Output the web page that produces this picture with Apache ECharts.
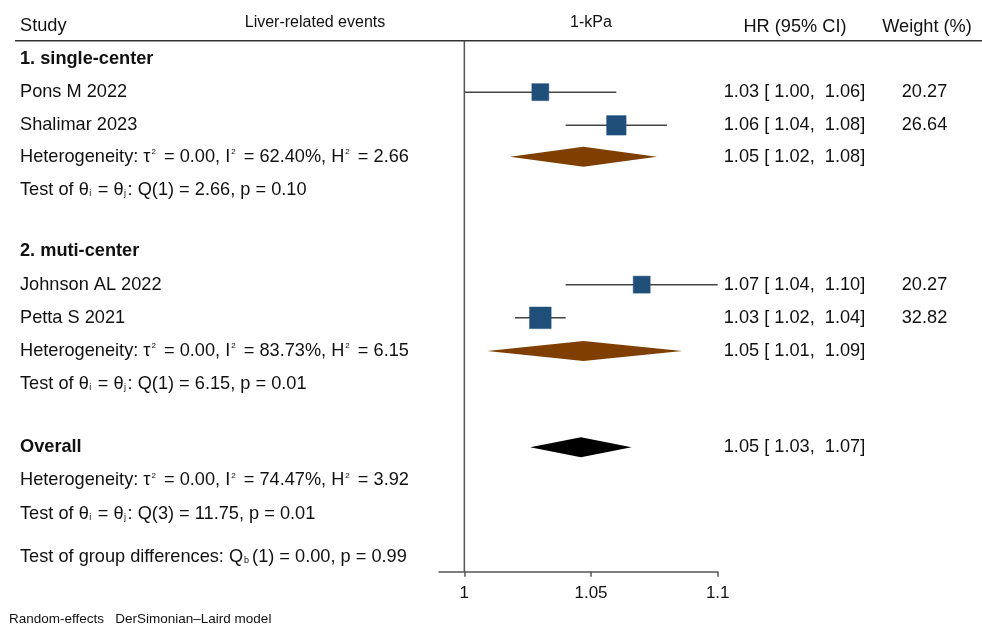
<!DOCTYPE html>
<html>
<head>
<meta charset="utf-8">
<script src="https://cdn.jsdelivr.net/npm/echarts@6/dist/echarts.min.js"></script>
<style>
html, body { margin: 0; padding: 0; background: #fff; }
#main { width: 982px; height: 630px; }
</style>
</head>
<body>
<div id="main"></div>
<script>
// left column text rows and their row position
const rowText = [
    '1. single-center',
    'Pons M 2022',
    'Shalimar 2023',
    'Heterogeneity: τ{sup|2} = 0.00, I{sup|2} = 62.40%, H{sup|2} = 2.66',
    'Test of θ{sub|i} = θ{sub|j}: Q(1) = 2.66, p = 0.10',
    '2. muti-center',
    'Johnson AL 2022',
    'Petta S 2021',
    'Heterogeneity: τ{sup|2} = 0.00, I{sup|2} = 83.73%, H{sup|2} = 6.15',
    'Test of θ{sub|i} = θ{sub|j}: Q(1) = 6.15, p = 0.01',
    'Overall',
    'Heterogeneity: τ{sup|2} = 0.00, I{sup|2} = 74.47%, H{sup|2} = 3.92',
    'Test of θ{sub|i} = θ{sub|j}: Q(3) = 11.75, p = 0.01',
    'Test of group differences: Q{subb|b}(1) = 0.00, p = 0.99'
]
const rowPos = [0.55, 1.55, 2.55, 3.5, 4.5, 6.35, 7.35, 8.35, 9.35, 10.35, 12.25, 13.25, 14.25, 15.55]
const boldRows = ['1. single-center', '2. muti-center', 'Overall']

// studies
const studyPos = [1.55, 2.55, 7.35, 8.35]
const studyHR = [1.03, 1.06, 1.07, 1.03]
const studyLo = [1.00, 1.04, 1.04, 1.02]
const studyHi = [1.06, 1.08, 1.10, 1.04]
const studyWeight = [20.27, 26.64, 20.27, 32.82]
const studyCI = ['1.03 [ 1.00,  1.06]', '1.06 [ 1.04,  1.08]', '1.07 [ 1.04,  1.10]', '1.03 [ 1.02,  1.04]']
const studyWeightText = ['20.27', '26.64', '20.27', '32.82']

// pooled estimates (two subgroups + overall)
const poolPos = [3.5, 9.35, 12.25]
const poolHR = [1.047, 1.047, 1.046]
const poolLo = [1.018, 1.009, 1.026]
const poolHi = [1.076, 1.086, 1.066]
const poolCI = ['1.05 [ 1.02,  1.08]', '1.05 [ 1.01,  1.09]', '1.05 [ 1.03,  1.07]']

// axis
const xMin = 0.99
const xMax = 1.1
const xTicks = [1, 1.05, 1.1]
const refValue = 1

const FONT = "'Liberation Sans', Arial, sans-serif"
const richText = {
    sup: { fontSize: 8, fontFamily: FONT, verticalAlign: 'top', padding: [0, 3, 0, 1] },
    sub: { fontSize: 9, fontFamily: FONT, verticalAlign: 'bottom', padding: [0, 1.5, 1, 0.5] },
    subb: { fontSize: 9, fontFamily: FONT, verticalAlign: 'bottom', padding: [0, 3, 1, 1] }
}

var myChart = echarts.init(document.getElementById('main'))

function textItem(x, y, text, align, bold) {
    return {
        type: 'text',
        x: x,
        y: y,
        style: {
            text: text,
            fill: '#111',
            fontSize: 18.2,
            fontFamily: FONT,
            fontWeight: bold ? 'bold' : 'normal',
            align: align,
            verticalAlign: 'middle',
            lineHeight: 18,
            rich: richText
        }
    }
}

let option = {
    animation: false,
    grid: {
        left: 439,
        right: 264.3,
        top: 40.7,
        bottom: 58.3
    },
    xAxis: {
        type: 'value',
        min: xMin,
        max: xMax,
        axisLine: { show: true, onZero: false, lineStyle: { color: '#555', width: 1.5 } },
        axisTick: { show: true, customValues: xTicks, length: 5, lineStyle: { color: '#555', width: 1.5 } },
        axisLabel: { customValues: xTicks, fontSize: 17, fontFamily: FONT, color: '#111', margin: 13.5 },
        splitLine: { show: false }
    },
    yAxis: {
        type: 'value',
        inverse: true,
        min: 0,
        max: 16,
        show: false
    },
    graphic: [
        { type: 'line', shape: { x1: 15, y1: 40.7, x2: 982, y2: 40.7 }, style: { stroke: '#333', lineWidth: 1.6 } },
        { type: 'text', x: 20, y: 26, style: { text: 'Study', fontSize: 18.2, fontFamily: FONT, fill: '#111', align: 'left', verticalAlign: 'middle' } },
        { type: 'text', x: 315, y: 23, style: { text: 'Liver-related events', fontSize: 16, fontFamily: FONT, fill: '#111', align: 'center', verticalAlign: 'middle' } },
        { type: 'text', x: 591, y: 23, style: { text: '1-kPa', fontSize: 16, fontFamily: FONT, fill: '#111', align: 'center', verticalAlign: 'middle' } },
        { type: 'text', x: 795, y: 26.5, style: { text: 'HR (95% CI)', fontSize: 18.2, fontFamily: FONT, fill: '#111', align: 'center', verticalAlign: 'middle' } },
        { type: 'text', x: 927, y: 26.5, style: { text: 'Weight (%)', fontSize: 18.2, fontFamily: FONT, fill: '#111', align: 'center', verticalAlign: 'middle' } },
        { type: 'text', x: 9, y: 619.5, style: { text: 'Random-effects   DerSimonian–Laird model', fontSize: 13.5, fontFamily: FONT, fill: '#111', align: 'left', verticalAlign: 'middle' } }
    ],
    series: [
        // 参考线 x = 1
        {
            type: 'line',
            data: [[refValue, 0], [refValue, 16]],
            symbol: 'none',
            silent: true,
            lineStyle: { color: '#555', width: 1.5 }
        },
        // 左侧文字
        {
            type: 'custom',
            data: rowPos.map((p, i) => [xMin, p, i]),
            encode: { x: 0, y: 1 },
            renderItem(params, api) {
                const i = api.value(2)
                const pt = api.coord([xMin, api.value(1)])
                return textItem(20, pt[1], rowText[i], 'left', boldRows.includes(rowText[i]))
            }
        },
        // 研究: 置信区间 + 方块
        {
            type: 'custom',
            data: studyHR.map((v, i) => [v, studyPos[i], studyLo[i], studyHi[i], studyWeight[i], i]),
            encode: { x: 0, y: 1 },
            renderItem(params, api) {
                const y = api.value(1)
                const c = api.coord([api.value(0), y])
                const l = api.coord([api.value(2), y])
                const h = api.coord([api.value(3), y])
                const side = 3.78 * Math.sqrt(api.value(4))
                const i = api.value(5)
                return {
                    type: 'group',
                    children: [
                        { type: 'line', shape: { x1: l[0], y1: l[1], x2: h[0], y2: h[1] }, style: { stroke: '#444', lineWidth: 1.5 } },
                        { type: 'rect', shape: { x: c[0] - side / 2, y: c[1] - side / 2, width: side, height: side }, style: { fill: '#1F4E79', stroke: '#2a5a86', lineWidth: 0.5 } },
                        textItem(794.5, c[1], studyCI[i], 'center', false),
                        textItem(924.5, c[1], studyWeightText[i], 'center', false)
                    ]
                }
            }
        },
        // 合并效应: 菱形
        {
            type: 'custom',
            data: poolHR.map((v, i) => [v, poolPos[i], poolLo[i], poolHi[i], i]),
            encode: { x: 0, y: 1 },
            renderItem(params, api) {
                const y = api.value(1)
                const c = api.coord([api.value(0), y])
                const l = api.coord([api.value(2), y])
                const h = api.coord([api.value(3), y])
                const i = api.value(4)
                const half = 10
                return {
                    type: 'group',
                    children: [
                        {
                            type: 'polygon',
                            shape: { points: [[l[0], c[1]], [c[0], c[1] - half], [h[0], c[1]], [c[0], c[1] + half]] },
                            style: { fill: i === 2 ? '#000' : '#7F3F00' }
                        },
                        textItem(794.5, c[1], poolCI[i], 'center', false)
                    ]
                }
            }
        }
    ]
}
myChart.setOption(option)
</script>
</body>
</html>
